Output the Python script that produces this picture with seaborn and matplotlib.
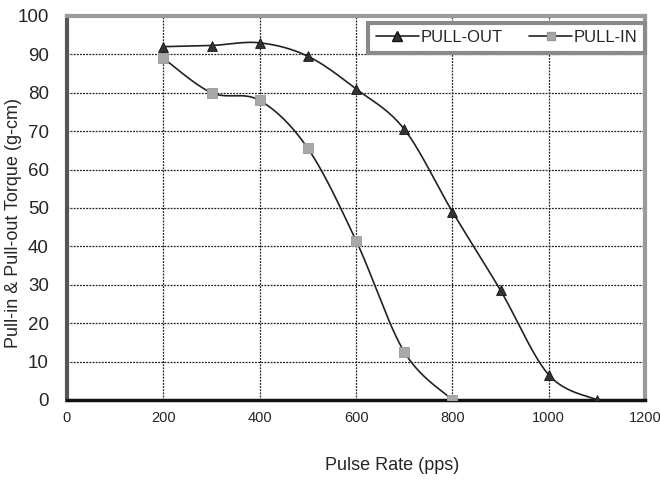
import numpy as np
import pandas as pd
import matplotlib
matplotlib.use("Agg")
import matplotlib.pyplot as plt
import seaborn as sns
from matplotlib.lines import Line2D

pulse_out = [200, 300, 400, 500, 600, 700, 800, 900, 1000, 1100]
torque_out = [92, 92.3, 93, 89.5, 81, 70.5, 49, 28.5, 6.5, 0]
pulse_in = [200, 300, 400, 500, 600, 700, 800]
torque_in = [89, 80, 78, 65.5, 41.5, 12.5, 0]
xticks = [0, 200, 400, 600, 800, 1000, 1200]
yticks = [0, 10, 20, 30, 40, 50, 60, 70, 80, 90, 100]

sns.set_theme(style="white")
fams = ["Liberation Sans Narrow", "Liberation Sans", "DejaVu Sans"]
plt.rcParams["font.family"] = fams


def smooth(xs, ys, n=30):
    # Catmull-Rom style smoothing of the line through data points (like Excel smoothed lines)
    x = np.asarray(xs, float); y = np.asarray(ys, float)
    px = np.concatenate([[x[0]], x, [x[-1]]]); py = np.concatenate([[y[0]], y, [y[-1]]])
    outx, outy = [], []
    t = np.linspace(0, 1, n)
    for i in range(1, len(px) - 2):
        p0, p1, p2, p3 = [np.array([px[j], py[j]]) for j in (i - 1, i, i + 1, i + 2)]
        c1 = p1 + (p2 - p0) / 6.0
        c2 = p2 - (p3 - p1) / 6.0
        b = ((1 - t) ** 3)[:, None] * p1 + (3 * (1 - t) ** 2 * t)[:, None] * c1 + \
            (3 * (1 - t) * t ** 2)[:, None] * c2 + (t ** 3)[:, None] * p2
        outx.extend(b[:, 0]); outy.extend(b[:, 1])
    return np.array(outx), np.array(outy)


fig = plt.figure(figsize=(6.6, 4.83), dpi=100)
ax = fig.add_axes([0.1015, 0.172, 0.876, 0.795])

sx, sy = smooth(pulse_out, torque_out)
ax.plot(sx, sy, color="#222222", lw=1.2, zorder=3)
sx, sy = smooth(pulse_in, torque_in)
ax.plot(sx, sy, color="#222222", lw=1.2, zorder=3)

df_out = pd.DataFrame({"x": pulse_out, "y": torque_out})
df_in = pd.DataFrame({"x": pulse_in, "y": torque_in})
sns.scatterplot(data=df_out, x="x", y="y", marker="^", s=50, color="#333333",
                edgecolor="#111111", linewidth=0.6, ax=ax, zorder=4)
sns.scatterplot(data=df_in, x="x", y="y", marker="s", s=45, color="#a8a8a8",
                edgecolor="#999999", linewidth=0.6, ax=ax, zorder=4)

ax.set_xlim(0, 1200)
ax.set_ylim(0, 100)
ax.set_xticks(xticks)
ax.set_yticks(yticks)
ax.set_xticklabels([str(v) for v in xticks], fontsize=10.5)
ax.set_yticklabels([str(v) for v in yticks], fontsize=13.5)
ax.tick_params(axis="x", length=0, pad=8)
ax.tick_params(axis="y", length=0, pad=13)
ax.grid(True, color="#222222", linestyle=(0, (1.5, 1.0)), linewidth=0.9)
ax.set_axisbelow(True)
for s in ["top", "right"]:
    ax.spines[s].set_color("#9a9a9a")
    ax.spines[s].set_linewidth(3)
ax.spines["left"].set_color("#555555")
ax.spines["left"].set_linewidth(3)
ax.spines["bottom"].set_color("#111111")
ax.spines["bottom"].set_linewidth(2.5)

ax.set_xlabel("Pulse Rate (pps)", fontsize=13)
ax.set_ylabel("Pull-in & Pull-out Torque (g-cm)", fontsize=13)
ax.xaxis.set_label_coords(0.562, -0.148)
ax.yaxis.set_label_coords(-0.078, 0.461)

handles = [
    Line2D([], [], color="#222222", lw=1.2, marker="^", markersize=7,
           markerfacecolor="#333333", markeredgecolor="#111111"),
    Line2D([], [], color="#222222", lw=1.2, marker="s", markersize=6,
           markerfacecolor="#a8a8a8", markeredgecolor="#999999"),
]
leg = ax.legend(handles, ["PULL-OUT", "PULL-IN"], ncol=2, loc="lower left",
                bbox_to_anchor=(0.521, 0.904, 0.479, 0.1), mode="expand",
                frameon=True, fancybox=False,
                fontsize=12, handlelength=2.6, handletextpad=0.1, columnspacing=1.0,
                borderpad=0.45, borderaxespad=0.0)
leg.get_frame().set_edgecolor("#8a8a8a")
leg.get_frame().set_linewidth(3)
leg.get_frame().set_facecolor("white")
leg.get_frame().set_alpha(1)

fig.savefig("out.png", dpi=100)
